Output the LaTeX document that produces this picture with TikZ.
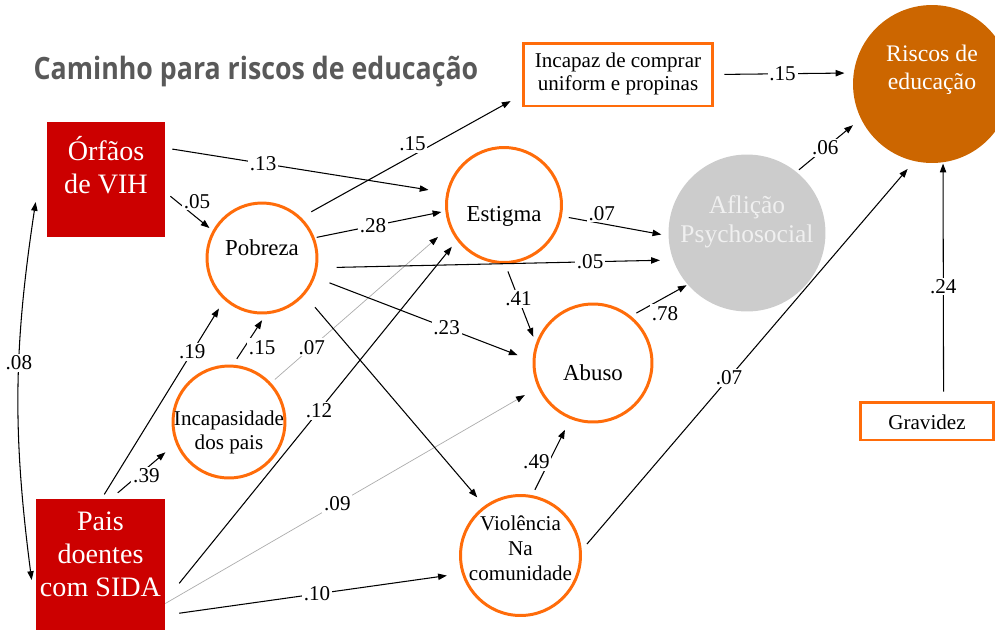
\documentclass[tikz,border=0pt]{standalone}
\usepackage{fontspec}
\setmainfont{Liberation Serif}
\newfontfamily\titlefont{Open Sans}[FakeStretch=0.87]
\usetikzlibrary{arrows.meta}
\definecolor{pathred}{RGB}{204,0,0}
\definecolor{pathorange}{RGB}{255,108,10}
\definecolor{riskbrown}{RGB}{204,102,0}
\definecolor{distressgray}{RGB}{204,204,204}
\definecolor{titlegray}{RGB}{89,89,89}

\begin{document}
\begin{tikzpicture}[
        x=0.02cm, y=-0.02cm,
        redbox/.style={rectangle, fill=pathred, text=white, inner xsep=0pt, align=center, font=\fontsize{16}{18.7}\selectfont},
        orbox/.style={rectangle, draw=pathorange, line width=1.7pt, align=center, font=\fontsize{12}{13.6}\selectfont},
        circ/.style={circle, draw=pathorange, line width=1.7pt, inner xsep=-12pt, inner ysep=0pt, align=center, font=\fontsize{13}{15}\selectfont},
        disc/.style={circle, inner xsep=-12pt, inner ysep=0pt, align=center},
        lbl/.style={fill=white, inner sep=1pt, font=\fontsize{12}{14}\selectfont},
        arrow/.style={-{Triangle[length=5pt, width=3.6pt]}, line width=0.6pt},
        thinarrow/.style={-{Triangle[length=5pt, width=3.6pt, color=black]}, draw=gray!65, line width=0.4pt},
        biarrow/.style={{Triangle[length=5pt, width=3.6pt]}-{Triangle[length=5pt, width=3.6pt]}, line width=0.6pt}
    ]
        \path[use as bounding box, clip] (0,0) rectangle (995,630);

        % Title
        \node[anchor=base, text=titlegray, font=\titlefont\bfseries\fontsize{17.5}{20}\selectfont] (title) at (256,79) {Caminho para riscos de educação};

        % Nodes
        \node[redbox, minimum width=2.36cm, minimum height=2.3cm, text height=15.6pt, text depth=0pt] (orfaos) at (106,179.5) {Órfãos\\de VIH};
        \node[redbox, minimum width=2.58cm, minimum height=2.62cm, text height=36.2pt, text depth=0pt] (pais) at (100.5,564.5) {Pais\\doentes\\com SIDA};
        \node[circ, minimum size=2.2cm, text height=0pt, text depth=2.8pt] (pobreza) at (262,258) {Pobreza};
        \node[circ, minimum size=2.24cm, text height=31.7pt, text depth=0pt, font=\fontsize{12}{13.6}\selectfont] (incapas) at (229,422) {Incapasidade\\dos pais};
        \node[circ, minimum size=2.3cm, text height=18.3pt, text depth=0pt] (estigma) at (504,205) {Estigma};
        \node[circ, minimum size=2.36cm, text height=20pt, text depth=0pt] (abuso) at (593,363) {Abuso};
        \node[circ, minimum size=2.4cm, text height=28.3pt, text depth=0pt, font=\fontsize{12}{14.2}\selectfont] (violencia) at (520.5,555.5) {Violência\\Na\\comunidade};
        \node[disc, fill=distressgray, minimum size=3.14cm, text=white!94!black, text height=10.7pt, text depth=0pt, font=\fontsize{14.5}{16.5}\selectfont] (aflicao) at (747,233) {Aflição\\Psychosocial};
        \node[disc, fill=riskbrown, minimum size=3.16cm, text=white, text height=6.1pt, text depth=0pt, font=\fontsize{13.5}{16}\selectfont] (riscos) at (932,84) {Riscos de\\educação};
        \node[orbox, minimum width=3.8cm, minimum height=1.26cm, text height=18.7pt, text depth=0pt] (incapaz) at (618,74.5) {Incapaz de comprar\\uniform e propinas};
        \node[orbox, minimum width=2.68cm, minimum height=0.76cm, text height=9.6pt, text depth=0pt] (gravidez) at (927,421) {Gravidez};

        % Arrows
        \draw[thinarrow, shorten <=0.1cm, shorten >=0.3cm] (incapas.43.7) -- node[lbl, pos=0.228]{.07} (estigma.202.7);
        \draw[thinarrow, shorten >=0.3cm] (pais.-31.5) -- node[lbl, pos=0.462]{.09} (abuso.204.5);
        \draw[arrow, shorten <=0.14cm, shorten >=0.36cm] (orfaos.28.8) -- node[lbl, pos=0.348]{.13} (estigma.168.5);
        \draw[arrow, shorten <=0.13cm, shorten >=0.08cm] (orfaos.-12.9) -- node[lbl, pos=0.5, xshift=0.16cm, yshift=0.2cm]{.05} (pobreza.151.7);
        \draw[arrow, shorten <=0.23cm, shorten >=0.25cm] (pobreza.46.2) -- node[lbl, pos=0.528, xshift=-0.1cm, yshift=0.18cm]{.15} (incapaz.192.9);
        \draw[arrow, shorten <=0.04cm, shorten >=0.08cm] (pobreza.21.6) -- node[lbl, pos=0.446]{.28} (estigma.186.5);
        \draw[arrow, shorten <=0.38cm, shorten >=0.26cm] (pobreza.-10.1) -- node[lbl, pos=0.767]{.05} (aflicao.200.4);
        \draw[arrow, shorten <=0.31cm, shorten >=0.32cm] (pobreza.-20.7) -- node[lbl, pos=0.605]{.23} (abuso.178.5);
        \draw[arrow, shorten <=0.32cm, shorten >=0.22cm] (pobreza.-41.6) -- (violencia.126.5);
        \draw[arrow, shorten <=0.14cm, shorten >=0.14cm] (estigma.-11.7) -- node[lbl, pos=0.375, yshift=0.2cm]{.07} (aflicao.182.7);
        \draw[arrow, shorten <=0.16cm, shorten >=0.14cm] (estigma.-89) -- node[lbl, pos=0.439]{.41} (abuso.161.6);
        \draw[arrow, shorten <=0.2cm, shorten >=0.18cm] (incapaz.0.9) -- node[lbl, pos=0.49]{.15} (riscos.172.8);
        \draw[arrow, shorten <=0.06cm, shorten >=0.2cm] (aflicao.51.4) -- node[lbl, pos=0.446]{.06} (riscos.206);
        \draw[arrow, shorten <=0.12cm, shorten >=0.02cm] (abuso.51.9) -- node[lbl, pos=0.55, xshift=0.06cm, yshift=-0.29cm]{.78} (aflicao.221.9);
        \draw[arrow, shorten <=0.12cm, shorten >=0.24cm] (violencia.79.4) -- node[lbl, pos=0.372, xshift=-0.2cm, yshift=0.1cm]{.49} (abuso.248.5);
        \draw[arrow, shorten <=0.16cm, shorten >=0.2cm] (violencia.5.6) -- node[lbl, pos=0.443]{.07} (riscos.257.7);
        \draw[arrow, shorten <=0.18cm, shorten >=0.02cm] (gravidez.51.7) -- node[lbl, pos=0.479]{.24} (riscos.278.6);
        \draw[arrow, shorten <=0.14cm, shorten >=0.14cm] (incapas.86.4) -- node[lbl, pos=0.506, xshift=0.25cm, yshift=-0.16cm]{.15} (pobreza.274.6);
        \draw[arrow, shorten <=0.1cm, shorten >=0.2cm] (pais.89) -- node[lbl, pos=0.739]{.19} (pobreza.228.7);
        \draw[arrow, shorten <=0.18cm, shorten >=0.27cm] (pais.81.3) -- node[lbl, pos=0.486, xshift=0.08cm, yshift=-0.08cm]{.39} (incapas.202.9);
        \draw[arrow, shorten <=0.44cm, shorten >=0.16cm] (pais.-29) -- node[lbl, pos=0.527]{.12} (estigma.217.6);
        \draw[arrow, shorten <=0.28cm, shorten >=0.3cm] (pais.-38) -- node[lbl, pos=0.512]{.10} (violencia.197.7);
        \draw[biarrow] ([shift={(-11,22.5)}]orfaos.west) to[bend right=8] node[lbl, pos=0.42]{.08} ([shift={(-4,15.5)}]pais.west);
    \end{tikzpicture}
\end{document}
